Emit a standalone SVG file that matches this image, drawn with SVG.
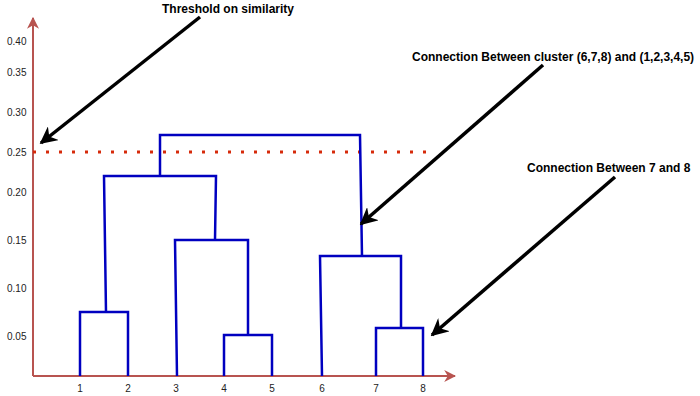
<svg xmlns="http://www.w3.org/2000/svg" width="700" height="396" viewBox="0 0 700 396">
<style>
.tick{font-family:"Liberation Sans",Arial,sans-serif;font-size:10px;fill:#222}
.lbl{font-family:"Liberation Sans",Arial,sans-serif;font-size:12px;font-weight:bold;fill:#000}
.axis{stroke:#b85450;stroke-width:2;fill:none}
.den{stroke:#0000c0;stroke-width:2.5;fill:none;stroke-linejoin:miter}
.ptr{stroke:#000;stroke-width:3.5;fill:none}
</style>
<defs>
<marker id="redArrow" viewBox="0 0 10 10" refX="9" refY="5" markerWidth="6" markerHeight="6" orient="auto" markerUnits="strokeWidth">
<path d="M0,0 L10,5 L0,10 L3,5 z" fill="#b85450"/>
</marker>
<marker id="blkArrow" viewBox="0 0 10 10" refX="9" refY="5" markerWidth="5" markerHeight="5" orient="auto" markerUnits="strokeWidth">
<path d="M0,0 L10,5 L0,10 L3,5 z" fill="#000"/>
</marker>
</defs>
<g id="axes">
<line class="axis" x1="33" y1="376" x2="33" y2="18" marker-end="url(#redArrow)"/>
<line class="axis" x1="33" y1="376" x2="455" y2="376" marker-end="url(#redArrow)"/>
</g>
<g id="y-ticks">
<text class="tick" x="7" y="45">0.40</text>
<text class="tick" x="7" y="76">0.35</text>
<text class="tick" x="7" y="116">0.30</text>
<text class="tick" x="7" y="156">0.25</text>
<text class="tick" x="7" y="196">0.20</text>
<text class="tick" x="7" y="244">0.15</text>
<text class="tick" x="7" y="292">0.10</text>
<text class="tick" x="7" y="340">0.05</text>
</g>
<g id="x-ticks" text-anchor="middle">
<text class="tick" x="80" y="392">1</text>
<text class="tick" x="128" y="392">2</text>
<text class="tick" x="176" y="392">3</text>
<text class="tick" x="224" y="392">4</text>
<text class="tick" x="272" y="392">5</text>
<text class="tick" x="322" y="392">6</text>
<text class="tick" x="376" y="392">7</text>
<text class="tick" x="423" y="392">8</text>
</g>
<g id="threshold">
<line x1="33" y1="152" x2="433" y2="152" stroke="#d62a0a" stroke-width="3" stroke-dasharray="3 10"/>
</g>
<g id="dendrogram">
<path class="den" d="M80,376 V312 H128 V376"/>
<path class="den" d="M224,376 V335 H272 V376"/>
<path class="den" d="M106,312 L104,176 H216 L215,240"/>
<path class="den" d="M177,376 L175,240 H248 V335"/>
<path class="den" d="M160,176 V135 H360 L362,256"/>
<path class="den" d="M322,376 L320,256 H401 V328"/>
<path class="den" d="M376,376 V328 H423 V376"/>
</g>
<g id="connectors">
<line class="ptr" x1="200" y1="17" x2="41" y2="143" marker-end="url(#blkArrow)"/>
<line class="ptr" x1="543" y1="65" x2="361" y2="224" marker-end="url(#blkArrow)"/>
<line class="ptr" x1="615" y1="177" x2="432" y2="335" marker-end="url(#blkArrow)"/>
</g>
<g id="labels">
<text class="lbl" x="162" y="13">Threshold on similarity</text>
<text class="lbl" x="412" y="61">Connection Between cluster (6,7,8) and (1,2,3,4,5)</text>
<text class="lbl" x="527" y="172">Connection Between 7 and 8</text>
</g>
</svg>
